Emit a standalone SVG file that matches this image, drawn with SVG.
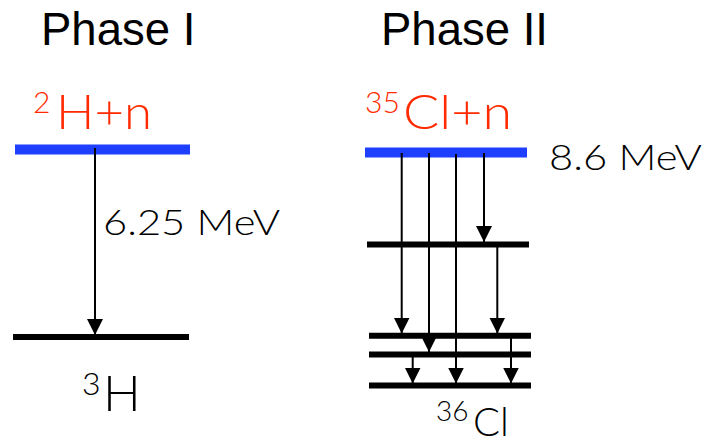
<svg xmlns="http://www.w3.org/2000/svg" width="708" height="445" viewBox="0 0 708 445">
<style>
.title{font-family:"Liberation Sans",Arial,sans-serif;font-size:45.5px;fill:#000}
.lbl{font-family:Lato,"Open Sans",sans-serif;font-weight:300;fill:#000}
.red{font-family:Lato,"Open Sans",sans-serif;font-weight:300;fill:#ff2a00}
.blue{stroke:#1f3fff;stroke-width:10}
.lvl{stroke:#000;stroke-width:6}
.arr{stroke:#000;stroke-width:2;fill:none;marker-end:url(#ah)}
</style>
<defs>
<marker id="ah" viewBox="0 0 16 16" refX="16" refY="8" markerWidth="16" markerHeight="16" markerUnits="userSpaceOnUse" orient="auto">
<path d="M0,0 L16,8 L0,16 Z" fill="#000"/>
</marker>
</defs>
<rect width="708" height="445" fill="#fff"/>

<g id="title1"><text class="title" x="41" y="45">Phase I</text></g>
<g id="title2"><text class="title" x="381" y="45">Phase II</text></g>

<g id="h2n">
<text class="red" x="33" y="113" font-size="30">2</text>
<text class="red" x="56" y="129" font-size="47" textLength="96" lengthAdjust="spacingAndGlyphs">H+n</text>
<line class="blue" x1="15" y1="149.5" x2="190" y2="149.5"/>
</g>
<g id="h3">
<line class="lvl" x1="13" y1="337" x2="189" y2="337"/>
<text class="lbl" x="82" y="395" font-size="32">3</text>
<text class="lbl" x="103" y="411" font-size="50">H</text>
</g>

<g id="cl35n">
<text class="red" x="365" y="113" font-size="30">35</text>
<text class="red" x="403" y="129" font-size="47" textLength="109" lengthAdjust="spacingAndGlyphs">Cl+n</text>
<line class="blue" x1="365" y1="152.5" x2="527" y2="152.5"/>
<text class="lbl" x="549" y="170" font-size="36" textLength="153" lengthAdjust="spacingAndGlyphs">8.6 MeV</text>
</g>
<g id="lvl2"><line class="lvl" x1="367" y1="244.5" x2="529" y2="244.5"/></g>
<g id="lvlA"><line class="lvl" x1="369" y1="335.7" x2="531" y2="335.7"/></g>
<g id="lvlB"><line class="lvl" x1="369" y1="354.5" x2="531" y2="354.5"/></g>
<g id="lvlC"><line class="lvl" x1="369" y1="385.5" x2="531" y2="385.5"/></g>
<g id="cl36">
<text class="lbl" x="436" y="421" font-size="28">36</text>
<text class="lbl" x="473" y="436" font-size="40">Cl</text>
</g>

<g id="connectors">
<line class="arr" x1="95" y1="148" x2="95" y2="335"/>
<text class="lbl" x="103" y="235" font-size="36" textLength="177" lengthAdjust="spacingAndGlyphs">6.25 MeV</text>
<line class="arr" x1="401.7" y1="153" x2="401.7" y2="333.5"/>
<line class="arr" x1="429" y1="153" x2="429" y2="352"/>
<line class="arr" x1="456" y1="154" x2="456" y2="383.5"/>
<line class="arr" x1="484" y1="153" x2="484" y2="242"/>
<line class="arr" x1="497.3" y1="245" x2="497.3" y2="333.5"/>
<line class="arr" x1="412.7" y1="355" x2="412.7" y2="383.5"/>
<line class="arr" x1="511" y1="336" x2="511" y2="383.5"/>
</g>
</svg>
